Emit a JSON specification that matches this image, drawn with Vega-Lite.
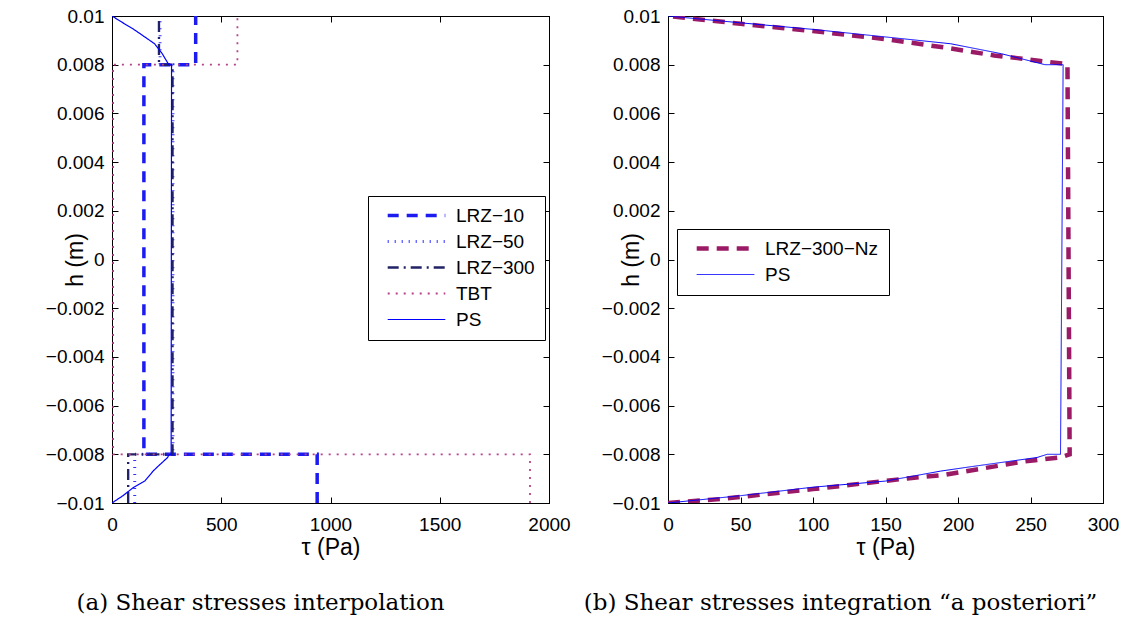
{
  "$schema": "https://vega.github.io/schema/vega-lite/v6.json",
  "background": "white",
  "padding": {"left": 44, "top": 6, "right": 5, "bottom": 5},
  "spacing": 12,
  "resolve": {"scale": {"color": "independent", "strokeDash": "independent", "strokeWidth": "independent"}},
  "config": {
    "view": {"stroke": "black", "strokeWidth": 1},
    "axis": {
      "grid": false, "domainColor": "black", "tickColor": "black", "labelColor": "black", "titleColor": "black",
      "labelFont": "Liberation Sans", "titleFont": "Liberation Sans", "labelFontSize": 19, "titleFontSize": 23,
      "titleFontWeight": "normal", "tickSize": -6, "labelPadding": 14, "labelOverlap": false, "labelFlush": false
    },
    "axisX": {"labelPadding": 18, "titlePadding": 2},
    "axisY": {"titleX": -37, "titleY": 243.5, "titleAngle": 270, "titleAlign": "center", "titleBaseline": "middle"},
    "legend": {
      "orient": "none", "strokeColor": "black", "fillColor": "white", "padding": 10,
      "symbolType": "M-4.8,0H4.8", "symbolSize": 144, "symbolOffset": 29, "labelOffset": 30,
      "labelFont": "Liberation Sans", "labelFontSize": 19, "labelColor": "black", "rowPadding": 6, "title": null
    },
    "title": {"font": "DejaVu Serif", "fontSize": 23, "fontWeight": "normal", "color": "black", "orient": "bottom", "offset": 33}
  },
  "datasets": {
    "left": [
      {"s": "LRZ−10", "o": 1, "tau": 939, "h": -0.01},
      {"s": "LRZ−10", "o": 2, "tau": 939, "h": -0.008},
      {"s": "LRZ−10", "o": 3, "tau": 146, "h": -0.008},
      {"s": "LRZ−10", "o": 4, "tau": 146, "h": 0.008},
      {"s": "LRZ−10", "o": 5, "tau": 383, "h": 0.008},
      {"s": "LRZ−10", "o": 6, "tau": 383, "h": 0.01},
      {"s": "LRZ−50", "o": 1, "tau": 104, "h": -0.01},
      {"s": "LRZ−50", "o": 2, "tau": 104, "h": -0.008},
      {"s": "LRZ−50", "o": 3, "tau": 279, "h": -0.008},
      {"s": "LRZ−50", "o": 4, "tau": 279, "h": 0.008},
      {"s": "LRZ−50", "o": 5, "tau": 220, "h": 0.008},
      {"s": "LRZ−50", "o": 6, "tau": 220, "h": 0.01},
      {"s": "LRZ−300", "o": 1, "tau": 74, "h": -0.01},
      {"s": "LRZ−300", "o": 2, "tau": 74, "h": -0.008},
      {"s": "LRZ−300", "o": 3, "tau": 277, "h": -0.008},
      {"s": "LRZ−300", "o": 4, "tau": 277, "h": 0.008},
      {"s": "LRZ−300", "o": 5, "tau": 215, "h": 0.008},
      {"s": "LRZ−300", "o": 6, "tau": 215, "h": 0.01},
      {"s": "TBT", "o": 1, "tau": 1913, "h": -0.01},
      {"s": "TBT", "o": 2, "tau": 1913, "h": -0.008},
      {"s": "TBT", "o": 3, "tau": 5, "h": -0.008},
      {"s": "TBT", "o": 4, "tau": 5, "h": 0.008},
      {"s": "TBT", "o": 5, "tau": 574, "h": 0.008},
      {"s": "TBT", "o": 6, "tau": 574, "h": 0.01},
      {"s": "PS", "o": 1, "tau": 0, "h": -0.01},
      {"s": "PS", "o": 2, "tau": 50, "h": -0.0097},
      {"s": "PS", "o": 3, "tau": 100, "h": -0.00935},
      {"s": "PS", "o": 4, "tau": 150, "h": -0.0091},
      {"s": "PS", "o": 5, "tau": 188, "h": -0.00869},
      {"s": "PS", "o": 6, "tau": 210, "h": -0.0085},
      {"s": "PS", "o": 7, "tau": 254.6, "h": -0.00813},
      {"s": "PS", "o": 8, "tau": 261.5, "h": -0.008},
      {"s": "PS", "o": 9, "tau": 270.7, "h": -0.008},
      {"s": "PS", "o": 10, "tau": 272.5, "h": 0.008},
      {"s": "PS", "o": 11, "tau": 260, "h": 0.008},
      {"s": "PS", "o": 12, "tau": 230, "h": 0.00845},
      {"s": "PS", "o": 13, "tau": 195, "h": 0.00886},
      {"s": "PS", "o": 14, "tau": 150, "h": 0.00914},
      {"s": "PS", "o": 15, "tau": 100, "h": 0.00945},
      {"s": "PS", "o": 16, "tau": 50, "h": 0.00972},
      {"s": "PS", "o": 17, "tau": 0, "h": 0.01}
    ],
    "right": [
      {"s": "LRZ−300−Nz", "o": 1, "tau": 0, "h": -0.01},
      {"s": "LRZ−300−Nz", "o": 2, "tau": 36, "h": -0.00984},
      {"s": "LRZ−300−Nz", "o": 3, "tau": 100, "h": -0.00943},
      {"s": "LRZ−300−Nz", "o": 4, "tau": 165, "h": -0.00899},
      {"s": "LRZ−300−Nz", "o": 5, "tau": 190, "h": -0.00885},
      {"s": "LRZ−300−Nz", "o": 6, "tau": 215, "h": -0.0086},
      {"s": "LRZ−300−Nz", "o": 7, "tau": 245, "h": -0.0083},
      {"s": "LRZ−300−Nz", "o": 8, "tau": 271, "h": -0.00812},
      {"s": "LRZ−300−Nz", "o": 9, "tau": 277, "h": -0.008},
      {"s": "LRZ−300−Nz", "o": 10, "tau": 275.5, "h": 0.008},
      {"s": "LRZ−300−Nz", "o": 11, "tau": 272, "h": 0.00805},
      {"s": "LRZ−300−Nz", "o": 12, "tau": 257, "h": 0.00815},
      {"s": "LRZ−300−Nz", "o": 13, "tau": 241, "h": 0.00827},
      {"s": "LRZ−300−Nz", "o": 14, "tau": 225, "h": 0.00838},
      {"s": "LRZ−300−Nz", "o": 15, "tau": 192.5, "h": 0.00869},
      {"s": "LRZ−300−Nz", "o": 16, "tau": 150, "h": 0.00905},
      {"s": "LRZ−300−Nz", "o": 17, "tau": 100, "h": 0.00938},
      {"s": "LRZ−300−Nz", "o": 18, "tau": 50, "h": 0.00968},
      {"s": "LRZ−300−Nz", "o": 19, "tau": 0, "h": 0.01},
      {"s": "PS", "o": 1, "tau": 0, "h": -0.01},
      {"s": "PS", "o": 2, "tau": 50, "h": -0.0097},
      {"s": "PS", "o": 3, "tau": 100, "h": -0.00935},
      {"s": "PS", "o": 4, "tau": 150, "h": -0.0091},
      {"s": "PS", "o": 5, "tau": 188, "h": -0.00869},
      {"s": "PS", "o": 6, "tau": 210, "h": -0.0085},
      {"s": "PS", "o": 7, "tau": 254.6, "h": -0.00813},
      {"s": "PS", "o": 8, "tau": 261.5, "h": -0.008},
      {"s": "PS", "o": 9, "tau": 270.7, "h": -0.008},
      {"s": "PS", "o": 10, "tau": 272.5, "h": 0.008},
      {"s": "PS", "o": 11, "tau": 260, "h": 0.008},
      {"s": "PS", "o": 12, "tau": 230, "h": 0.00845},
      {"s": "PS", "o": 13, "tau": 195, "h": 0.00886},
      {"s": "PS", "o": 14, "tau": 150, "h": 0.00914},
      {"s": "PS", "o": 15, "tau": 100, "h": 0.00945},
      {"s": "PS", "o": 16, "tau": 50, "h": 0.00972},
      {"s": "PS", "o": 17, "tau": 0, "h": 0.01}
    ]
  },
  "hconcat": [
    {
      "width": 437, "height": 487,
      "title": {"text": "(a) Shear stresses interpolation", "dx": -70},
      "data": {"name": "left"},
      "layer": [
        {
          "mark": {"type": "line", "clip": true},
          "encoding": {
            "x": {"field": "tau", "type": "quantitative", "scale": {"domain": [0, 2000], "nice": false},
                  "axis": {"title": "τ (Pa)", "values": [0, 500, 1000, 1500, 2000], "format": "d"}},
            "y": {"field": "h", "type": "quantitative", "scale": {"domain": [-0.01, 0.01], "nice": false, "zero": false},
                  "axis": {"title": "h (m)", "values": [-0.01, -0.008, -0.006, -0.004, -0.002, 0, 0.002, 0.004, 0.006, 0.008, 0.01], "format": "~g"}},
            "order": {"field": "o", "type": "quantitative"},
            "color": {"field": "s", "type": "nominal",
                      "scale": {"domain": ["LRZ−10", "LRZ−50", "LRZ−300", "TBT", "PS"], "range": ["#1c1cf0", "#3030ff", "#222266", "#b8408a", "#0000ff"]},
                      "legend": {"legendX": 256, "legendY": 180}},
            "strokeDash": {"field": "s", "type": "nominal",
                      "scale": {"domain": ["LRZ−10", "LRZ−50", "LRZ−300", "TBT", "PS"], "range": [[11, 8], [1, 6], [11, 5, 2, 5], [2, 6], [1, 0]]},
                      "legend": {"legendX": 256, "legendY": 180}},
            "strokeWidth": {"field": "s", "type": "nominal",
                      "scale": {"domain": ["LRZ−10", "LRZ−50", "LRZ−300", "TBT", "PS"], "range": [3.5, 1.2, 3.5, 1.6, 1]},
                      "legend": {"legendX": 256, "legendY": 180}}
          }
        },
        {
          "mark": {"type": "point", "opacity": 0},
          "encoding": {
            "x": {"field": "tau", "type": "quantitative", "axis": {"orient": "top", "labels": false, "title": null, "values": [0, 500, 1000, 1500, 2000]}},
            "y": {"field": "h", "type": "quantitative", "axis": {"orient": "right", "labels": false, "title": null, "values": [-0.01, -0.008, -0.006, -0.004, -0.002, 0, 0.002, 0.004, 0.006, 0.008, 0.01]}}
          }
        }
      ],
      "resolve": {"axis": {"x": "independent", "y": "independent"}}
    },
    {
      "width": 435, "height": 487,
      "title": {"text": "(b) Shear stresses integration “a posteriori”", "dx": -45},
      "data": {"name": "right"},
      "layer": [
        {
          "mark": {"type": "line", "clip": true},
          "encoding": {
            "x": {"field": "tau", "type": "quantitative", "scale": {"domain": [0, 300], "nice": false},
                  "axis": {"title": "τ (Pa)", "values": [0, 50, 100, 150, 200, 250, 300], "format": "d"}},
            "y": {"field": "h", "type": "quantitative", "scale": {"domain": [-0.01, 0.01], "nice": false, "zero": false},
                  "axis": {"title": "h (m)", "values": [-0.01, -0.008, -0.006, -0.004, -0.002, 0, 0.002, 0.004, 0.006, 0.008, 0.01], "format": "~g"}},
            "order": {"field": "o", "type": "quantitative"},
            "color": {"field": "s", "type": "nominal",
                      "scale": {"domain": ["LRZ−300−Nz", "PS"], "range": ["#9a1a66", "#0000ff"]},
                      "legend": {"legendX": 9, "legendY": 213}},
            "strokeDash": {"field": "s", "type": "nominal",
                      "scale": {"domain": ["LRZ−300−Nz", "PS"], "range": [[12, 8], [1, 0]]},
                      "legend": {"legendX": 9, "legendY": 213}},
            "strokeWidth": {"field": "s", "type": "nominal",
                      "scale": {"domain": ["LRZ−300−Nz", "PS"], "range": [4.5, 1]},
                      "legend": {"legendX": 9, "legendY": 213}}
          }
        },
        {
          "mark": {"type": "point", "opacity": 0},
          "encoding": {
            "x": {"field": "tau", "type": "quantitative", "axis": {"orient": "top", "labels": false, "title": null, "values": [0, 50, 100, 150, 200, 250, 300]}},
            "y": {"field": "h", "type": "quantitative", "axis": {"orient": "right", "labels": false, "title": null, "values": [-0.01, -0.008, -0.006, -0.004, -0.002, 0, 0.002, 0.004, 0.006, 0.008, 0.01]}}
          }
        }
      ],
      "resolve": {"axis": {"x": "independent", "y": "independent"}}
    }
  ]
}
